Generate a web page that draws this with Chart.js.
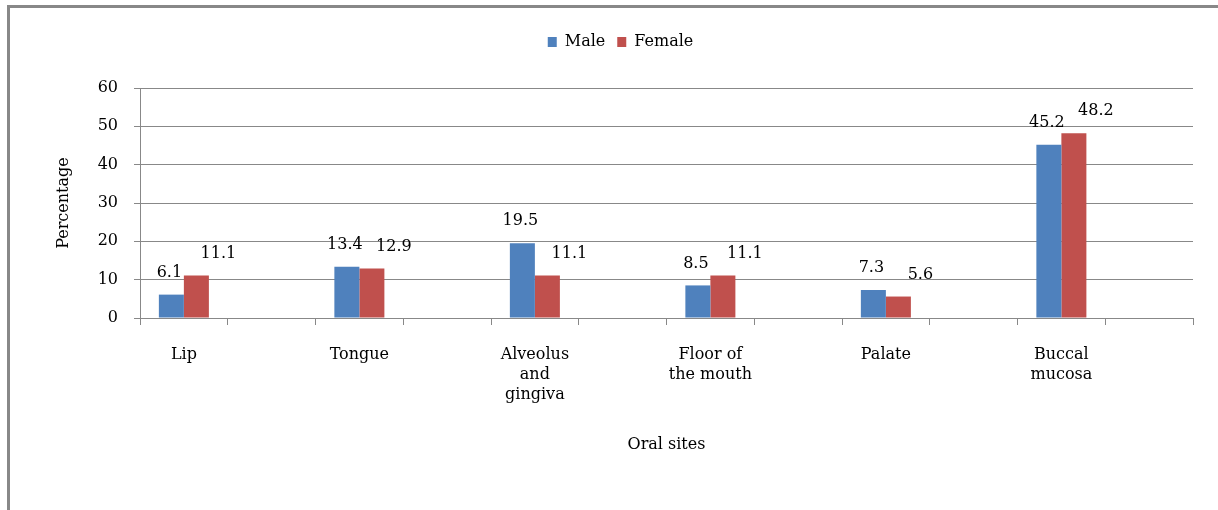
<!DOCTYPE html>
<html>
<head>
<meta charset="utf-8">
<script src="https://cdn.jsdelivr.net/npm/chart.js@4.4.1/dist/chart.umd.min.js"></script>
<style>
  body { margin: 0; background: #fff; }
  #wrap { position: relative; width: 1218px; height: 510px; }
  #frame {
    position: absolute; left: 7px; top: 5px; right: 0; bottom: 0;
    border-top: 3px solid #888; border-left: 3px solid #888;
    pointer-events: none;
  }
  canvas { position: absolute; left: 0; top: 0; }
</style>
</head>
<body>
<div id="wrap">
  <canvas id="chart" width="1218" height="510"></canvas>
  <div id="frame"></div>
</div>
<script>
// data (empty slots keep the Excel spacing between sites)
const sites = [
  "Lip", "",
  "Tongue", "",
  ["Alveolus", "and", "gingiva"], "",
  ["Floor of", "the mouth"], "",
  "Palate", "",
  ["Buccal", "mucosa"], "",
];
const male = [6.1, null, 13.4, null, 19.5, null, 8.5, null, 7.3, null, 45.2, null];
const female = [11.1, null, 12.9, null, 11.1, null, 11.1, null, 5.6, null, 48.2, null];
const yTicks = [0, 10, 20, 30, 40, 50, 60];

const serif = "'DejaVu Serif', 'Liberation Serif', serif";

// label di atas batang
const valueLabels = {
  id: "valueLabels",
  afterDatasetsDraw(chart) {
    const ctx = chart.ctx;
    ctx.save();
    ctx.font = "16px " + serif;
    ctx.fillStyle = "#000";
    ctx.textAlign = "center";
    ctx.textBaseline = "middle";
    chart.data.datasets.forEach((ds, i) => {
      const meta = chart.getDatasetMeta(i);
      const dx = i === 0 ? -2 : 22;
      meta.data.forEach((bar, j) => {
        const v = ds.data[j];
        if (v === null) return;
        ctx.fillText(v.toFixed(1), bar.x + dx, bar.y - 22);
      });
    });
    ctx.restore();
  },
};

// jarak ekstra di bawah legend
const legendGap = {
  id: "legendGap",
  afterInit(chart) {
    const lg = chart.legend;
    const fit = lg.fit;
    lg.fit = function () {
      fit.call(this);
      this.height += 28;
    };
  },
};

const ctx = document.getElementById("chart").getContext("2d");
const chart = new Chart(ctx, {
  type: "bar",
  data: {
    labels: sites,
    datasets: [
      { label: "Male", data: male, backgroundColor: "#4F81BD" },
      { label: "Female", data: female, backgroundColor: "#C0504D" },
    ],
  },
  options: {
    responsive: false,
    animation: false,
    layout: { padding: { left: 48, right: 25, top: 22, bottom: 0 } },
    datasets: {
      bar: { categoryPercentage: 0.57, barPercentage: 1.0, skipNull: false },
    },
    plugins: {
      legend: {
        position: "top",
        labels: {
          font: { family: serif, size: 16 },
          color: "#000",
          boxWidth: 9,
          boxHeight: 10,
          padding: 12,
        },
      },
      tooltip: { enabled: false },
    },
    scales: {
      x: {
        grid: {
          offset: true,
          drawOnChartArea: false,
          drawTicks: true,
          tickLength: 7,
          color: "#888",
        },
        border: { display: true, color: "#888" },
        ticks: {
          font: { family: serif, size: 16, lineHeight: 1.25 },
          color: "#000",
          maxRotation: 0,
          autoSkip: false,
          padding: 20,
        },
        title: {
          display: true,
          text: "Oral sites",
          font: { family: serif, size: 16 },
          color: "#000",
          padding: { top: 0, bottom: 56 },
        },
        afterFit(scale) {
          scale.height = 192;
        },
      },
      y: {
        min: 0,
        max: 60,
        afterBuildTicks(scale) {
          scale.ticks = yTicks.map((v) => ({ value: v }));
        },
        grid: { color: "#888", tickLength: 6 },
        border: { display: true, color: "#888" },
        ticks: {
          font: { family: serif, size: 16 },
          color: "#000",
          padding: 16,
        },
        title: {
          display: true,
          text: "Percentage",
          font: { family: serif, size: 16 },
          color: "#000",
          padding: { top: 6, bottom: 0 },
        },
        afterFit(scale) {
          scale.width = 92;
        },
      },
    },
  },
  plugins: [valueLabels, legendGap],
});
</script>
</body>
</html>
